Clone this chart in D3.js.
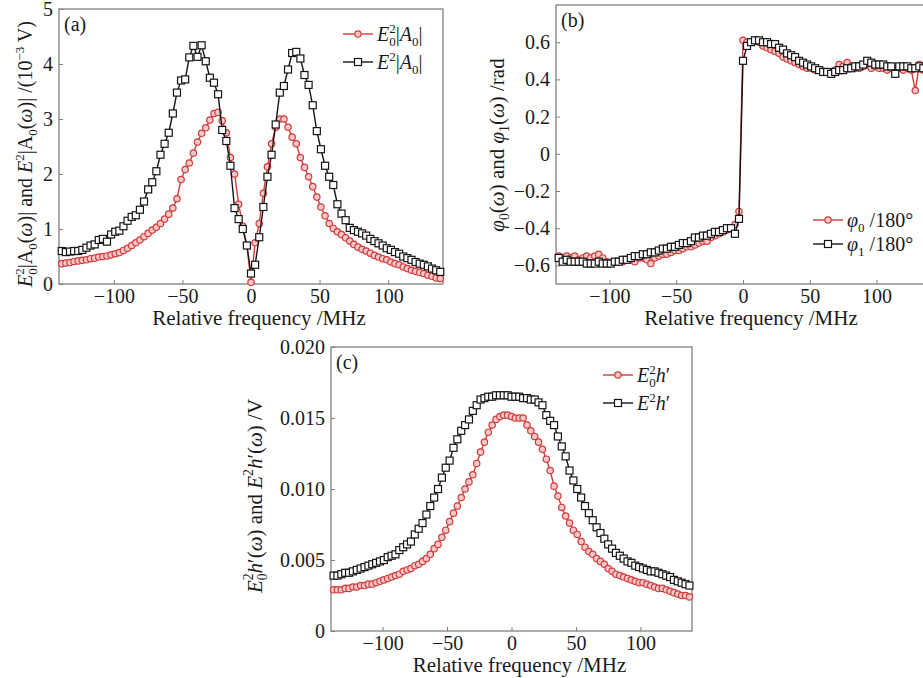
<!DOCTYPE html>
<html>
<head>
<meta charset="utf-8">
<script src="https://cdn.jsdelivr.net/npm/d3@7"></script>
<style>
body { margin: 0; background: #fff; }
</style>
</head>
<body>
<script>
// relative frequency (MHz), shared by all three panels
var freq = [-138,-135,-132,-129,-126,-123,-120,-117,-114,-111,
	-108,-105,-102,-99,-96,-93,-90,-87,-84,-81,
	-78,-75,-72,-69,-66,-63,-60,-57,-54,-51,
	-48,-45,-42,-39,-36,-33,-30,-27,-24,-21,
	-18,-15,-12,-9,-6,-3,0,3,6,9,
	12,15,18,21,24,27,30,33,36,39,
	42,45,48,51,54,57,60,63,66,69,
	72,75,78,81,84,87,90,93,96,99,
	102,105,108,111,114,117,120,123,126,129,
	132,135,138];

// (a) E0^2|A0| (red) and E^2|A0| (black), 10^-3 V
var ampRed = [0.37,0.38,0.39,0.41,0.42,0.43,0.44,0.46,0.47,0.49,
	0.50,0.51,0.53,0.55,0.57,0.61,0.65,0.70,0.75,0.80,
	0.86,0.92,0.98,1.03,1.10,1.18,1.27,1.38,1.55,1.90,
	2.08,2.20,2.38,2.58,2.74,2.84,2.98,3.10,3.12,2.97,
	2.75,2.30,2.00,1.45,1.05,0.70,0.03,0.75,1.10,1.65,
	2.13,2.55,2.85,3.00,3.00,2.85,2.67,2.55,2.30,2.12,
	1.95,1.77,1.58,1.40,1.24,1.10,1.01,0.95,0.90,0.84,
	0.78,0.72,0.67,0.63,0.60,0.56,0.52,0.49,0.46,0.44,
	0.40,0.37,0.35,0.31,0.28,0.25,0.23,0.21,0.19,0.16,
	0.14,0.11,0.10];
var ampBlack = [0.60,0.58,0.59,0.60,0.60,0.62,0.66,0.70,0.72,0.80,
	0.82,0.77,0.90,0.95,0.97,1.05,1.15,1.22,1.25,1.35,
	1.50,1.72,1.85,2.05,2.35,2.55,2.75,3.10,3.48,3.70,
	3.72,4.12,4.33,4.13,4.34,4.05,3.75,3.66,3.45,2.80,
	2.60,2.15,1.38,1.18,1.00,0.70,0.19,0.35,0.85,1.40,
	1.95,2.35,2.90,3.48,3.60,3.90,4.20,4.22,4.10,3.80,
	3.62,3.25,2.78,2.45,2.15,1.95,1.80,1.45,1.28,1.16,
	1.02,0.98,0.95,0.92,0.88,0.82,0.78,0.74,0.70,0.65,
	0.62,0.58,0.55,0.50,0.47,0.44,0.40,0.37,0.35,0.32,
	0.28,0.25,0.22];

// (b) phases phi0 (red) and phi1 (black), /180 deg
var phi0 = [-0.55,-0.56,-0.55,-0.56,-0.55,-0.57,-0.56,-0.55,-0.56,-0.55,
	-0.54,-0.56,-0.58,-0.59,-0.58,-0.58,-0.58,-0.57,-0.57,-0.58,
	-0.56,-0.56,-0.57,-0.59,-0.56,-0.55,-0.54,-0.54,-0.53,-0.52,
	-0.52,-0.51,-0.50,-0.50,-0.49,-0.48,-0.47,-0.47,-0.45,-0.44,
	-0.43,-0.42,-0.41,-0.40,-0.38,-0.31,0.61,0.60,0.60,0.61,
	0.60,0.58,0.57,0.56,0.55,0.54,0.52,0.51,0.50,0.49,
	0.48,0.47,0.46,0.46,0.45,0.45,0.44,0.44,0.44,0.45,
	0.48,0.47,0.49,0.47,0.46,0.46,0.47,0.48,0.46,0.47,
	0.46,0.46,0.45,0.46,0.45,0.46,0.45,0.46,0.45,0.34,
	0.48,0.45,0.46];
var phi1 = [-0.56,-0.58,-0.57,-0.58,-0.58,-0.58,-0.58,-0.59,-0.59,-0.59,
	-0.58,-0.59,-0.59,-0.59,-0.58,-0.58,-0.57,-0.57,-0.56,-0.55,
	-0.55,-0.54,-0.54,-0.53,-0.53,-0.52,-0.51,-0.51,-0.50,-0.50,
	-0.49,-0.48,-0.48,-0.47,-0.45,-0.45,-0.44,-0.44,-0.43,-0.42,
	-0.42,-0.41,-0.40,-0.40,-0.43,-0.35,0.50,0.58,0.60,0.61,
	0.61,0.60,0.60,0.59,0.59,0.57,0.56,0.54,0.53,0.52,
	0.50,0.49,0.48,0.47,0.46,0.45,0.44,0.44,0.43,0.44,
	0.45,0.45,0.46,0.46,0.47,0.47,0.48,0.50,0.49,0.48,
	0.48,0.48,0.47,0.47,0.43,0.47,0.47,0.47,0.46,0.46,
	0.47,0.46,0.46];

// (c) E0^2 h' (red) and E^2 h' (black), V
var hRed = [0.0029,0.0029,0.0029,0.0030,0.0030,0.0031,0.0031,0.0032,0.0032,0.0033,
	0.0033,0.0034,0.0035,0.0036,0.0037,0.0038,0.0039,0.0040,0.0042,0.0043,
	0.0044,0.0046,0.0047,0.0049,0.0051,0.0054,0.0058,0.0061,0.0066,0.0071,
	0.0077,0.0083,0.0088,0.0094,0.0100,0.0105,0.0110,0.0118,0.0126,0.0133,
	0.0140,0.0145,0.0149,0.0151,0.0152,0.0152,0.0151,0.0150,0.0150,0.0150,
	0.0145,0.0141,0.0137,0.0133,0.0128,0.0121,0.0113,0.0102,0.0095,0.0087,
	0.0081,0.0076,0.0071,0.0068,0.0063,0.0059,0.0056,0.0054,0.0051,0.0049,
	0.0047,0.0044,0.0042,0.0040,0.0039,0.0038,0.0037,0.0036,0.0035,0.0034,
	0.0034,0.0033,0.0032,0.0031,0.0030,0.0030,0.0029,0.0028,0.0027,0.0026,
	0.0025,0.0025,0.0024];
var hBlack = [0.0039,0.0039,0.0040,0.0041,0.0041,0.0042,0.0043,0.0044,0.0045,0.0046,
	0.0047,0.0048,0.0049,0.0050,0.0052,0.0053,0.0054,0.0057,0.0059,0.0061,
	0.0063,0.0068,0.0072,0.0076,0.0082,0.0088,0.0094,0.0100,0.0108,0.0115,
	0.0120,0.0129,0.0135,0.0141,0.0145,0.0149,0.0155,0.0159,0.0163,0.0164,
	0.0165,0.0165,0.0166,0.0166,0.0166,0.0166,0.0165,0.0165,0.0165,0.0164,
	0.0164,0.0163,0.0163,0.0161,0.0159,0.0152,0.0148,0.0145,0.0137,0.0130,
	0.0123,0.0113,0.0106,0.0100,0.0094,0.0088,0.0083,0.0078,0.0073,0.0069,
	0.0065,0.0061,0.0058,0.0055,0.0053,0.0051,0.0049,0.0048,0.0046,0.0045,
	0.0044,0.0043,0.0042,0.0042,0.0041,0.0040,0.0039,0.0038,0.0036,0.0035,
	0.0034,0.0033,0.0032];

var xTicks = [-100, -50, 0, 50, 100];
var aTicks = [0, 1, 2, 3, 4, 5];
var bTicks = [-0.6, -0.4, -0.2, 0, 0.2, 0.4, 0.6];
var cTicks = [0, 0.005, 0.010, 0.015, 0.020];

var RED = "#d43a3a", BLACK = "#151515", FRAME = "#808080";
var FONT = "'Liberation Serif', 'DejaVu Serif', 'Noto Serif', serif";

var svg = d3.select("body").append("svg")
	.attr("width", 923)
	.attr("height", 678)
	.style("font-family", FONT);

// text with italic / super / sub pieces
function rich(t, parts, size) {
	var cur = 0;
	parts.forEach(function(p) {
		var off = p.sup ? -0.42 * size : (p.sub ? 0.26 * size : 0);
		var ts = t.append("tspan").text(p.t).attr("dy", off - cur);
		cur = off;
		if (p.sup || p.sub) ts.style("font-size", (0.65 * size) + "px");
		if (p.i) ts.style("font-style", "italic");
		if (p.back) ts.attr("dx", "-0.5em");
	});
	return t;
}

function marker(g, type, cx, cy, color) {
	if (type == "circle") {
		g.append("circle").attr("cx", cx).attr("cy", cy).attr("r", 3.2)
			.attr("fill", "#f4c8c8").attr("stroke", color).attr("stroke-width", 1.2);
	} else {
		g.append("rect").attr("x", cx - 3.5).attr("y", cy - 3.5).attr("width", 7).attr("height", 7)
			.attr("fill", "#fff").attr("stroke", color).attr("stroke-width", 1.2);
	}
}

function panel(cfg) {
	var x = d3.scaleLinear().domain([-140, 140]).range([cfg.left, cfg.right]);
	var y = d3.scaleLinear().domain(cfg.yDomain).range([cfg.bottom, cfg.top]);
	var g = svg.append("g");

	var xa = g.append("g")
		.attr("transform", "translate(0," + cfg.bottom + ")")
		.call(d3.axisBottom(x).tickValues(xTicks).tickSizeInner(-4).tickSizeOuter(0).tickPadding(5).tickFormat(d3.format("d")));
	var ya = g.append("g")
		.attr("transform", "translate(" + cfg.left + ",0)")
		.call(d3.axisLeft(y).tickValues(cfg.yTicks).tickSizeInner(-4).tickSizeOuter(0).tickPadding(6).tickFormat(cfg.yFormat));
	[xa, ya].forEach(function(a) {
		a.attr("font-size", 20).attr("font-family", null);
		a.select(".domain").remove();
		a.selectAll(".tick line").attr("stroke", FRAME);
		a.selectAll(".tick text").attr("fill", "#1a1a1a");
	});

	g.append("rect")
		.attr("x", cfg.left).attr("y", cfg.top)
		.attr("width", cfg.right - cfg.left).attr("height", cfg.bottom - cfg.top)
		.attr("fill", "none").attr("stroke", FRAME).attr("stroke-width", 1.3);

	var line = d3.line().x(function(d) { return x(d[0]); }).y(function(d) { return y(d[1]); });

	cfg.series.forEach(function(s) {
		var pts = d3.zip(freq, s.values);
		g.append("path").datum(pts)
			.attr("d", line).attr("fill", "none")
			.attr("stroke", s.color).attr("stroke-width", 1.4);
		var mg = g.append("g");
		pts.forEach(function(d) { marker(mg, s.marker, x(d[0]), y(d[1]), s.color); });
	});

	// legend
	cfg.series.forEach(function(s, i) {
		var ly = cfg.legend[1] + i * cfg.legend[2];
		var lx = cfg.legend[0];
		g.append("line").attr("x1", lx).attr("x2", lx + 30).attr("y1", ly).attr("y2", ly)
			.attr("stroke", s.color).attr("stroke-width", 1.4);
		marker(g, s.marker, lx + 15, ly, s.color);
		rich(g.append("text").attr("x", lx + 34).attr("y", ly + 7).style("font-size", "20px").attr("fill", "#1a1a1a"), s.label, 20);
	});

	// panel letter
	g.append("text").attr("x", cfg.left + 5).attr("y", cfg.top + 22)
		.style("font-size", "20px").attr("fill", "#1a1a1a").text(cfg.letter);

	// axis titles
	g.append("text")
		.attr("x", (cfg.left + cfg.right) / 2 + 8)
		.attr("y", cfg.bottom + 41)
		.attr("text-anchor", "middle")
		.style("font-size", "21px")
		.attr("fill", "#1a1a1a")
		.text("Relative frequency /MHz");

	rich(g.append("text")
		.attr("transform", "translate(" + cfg.ytitle[0] + "," + cfg.ytitle[1] + ") rotate(-90)")
		.attr("text-anchor", "middle")
		.attr("fill", "#1a1a1a")
		.style("font-size", cfg.ysize + "px"), cfg.yLabel, cfg.ysize);
}

// (a)
panel({
	left: 59, right: 443, top: 9, bottom: 284,
	yDomain: [0, 5], yTicks: aTicks, yFormat: d3.format("d"),
	letter: "(a)", legend: [343, 34, 28], ytitle: [32, 154], ysize: 20,
	series: [
		{values: ampRed, color: RED, marker: "circle",
			label: [{t: "E", i: 1}, {t: "2", sup: 1}, {t: "0", sub: 1, back: 1}, {t: "|"}, {t: "A", i: 1}, {t: "0", sub: 1}, {t: "|"}]},
		{values: ampBlack, color: BLACK, marker: "square",
			label: [{t: "E", i: 1}, {t: "2", sup: 1}, {t: "|"}, {t: "A", i: 1}, {t: "0", sub: 1}, {t: "|"}]}
	],
	yLabel: [{t: "E", i: 1}, {t: "2", sup: 1}, {t: "0", sub: 1, back: 1}, {t: "|A"}, {t: "0", sub: 1}, {t: "("}, {t: "ω", i: 1},
		{t: ")| and "}, {t: "E", i: 1}, {t: "2", sup: 1}, {t: "|A"}, {t: "0", sub: 1}, {t: "("}, {t: "ω", i: 1},
		{t: ")| /(10"}, {t: "−3", sup: 1}, {t: " V)"}]
});

// (b)
panel({
	left: 556, right: 930, top: 5, bottom: 284,
	yDomain: [-0.7, 0.8], yTicks: bTicks,
	yFormat: function(d) { return d === 0 ? "0" : d3.format(".1f")(d); },
	letter: "(b)", legend: [813, 220, 24], ytitle: [504, 145], ysize: 21,
	series: [
		{values: phi0, color: RED, marker: "circle",
			label: [{t: "φ", i: 1}, {t: "0", sub: 1}, {t: " /180°"}]},
		{values: phi1, color: BLACK, marker: "square",
			label: [{t: "φ", i: 1}, {t: "1", sub: 1}, {t: " /180°"}]}
	],
	yLabel: [{t: "φ", i: 1}, {t: "0", sub: 1}, {t: "("}, {t: "ω", i: 1}, {t: ") and "},
		{t: "φ", i: 1}, {t: "1", sub: 1}, {t: "("}, {t: "ω", i: 1}, {t: ") /rad"}]
});

// (c)
panel({
	left: 331, right: 692, top: 347, bottom: 631,
	yDomain: [0, 0.02], yTicks: cTicks,
	yFormat: function(d) { return d === 0 ? "0" : d3.format(".3f")(d); },
	letter: "(c)", legend: [603, 375, 28], ytitle: [262, 496], ysize: 21,
	series: [
		{values: hRed, color: RED, marker: "circle",
			label: [{t: "E", i: 1}, {t: "2", sup: 1}, {t: "0", sub: 1, back: 1}, {t: "h", i: 1}, {t: "′"}]},
		{values: hBlack, color: BLACK, marker: "square",
			label: [{t: "E", i: 1}, {t: "2", sup: 1}, {t: "h", i: 1}, {t: "′"}]}
	],
	yLabel: [{t: "E", i: 1}, {t: "2", sup: 1}, {t: "0", sub: 1, back: 1}, {t: "h", i: 1}, {t: "′("}, {t: "ω", i: 1},
		{t: ") and "}, {t: "E", i: 1}, {t: "2", sup: 1}, {t: "h", i: 1}, {t: "′("}, {t: "ω", i: 1}, {t: ") /V"}]
});
</script>
</body>
</html>
